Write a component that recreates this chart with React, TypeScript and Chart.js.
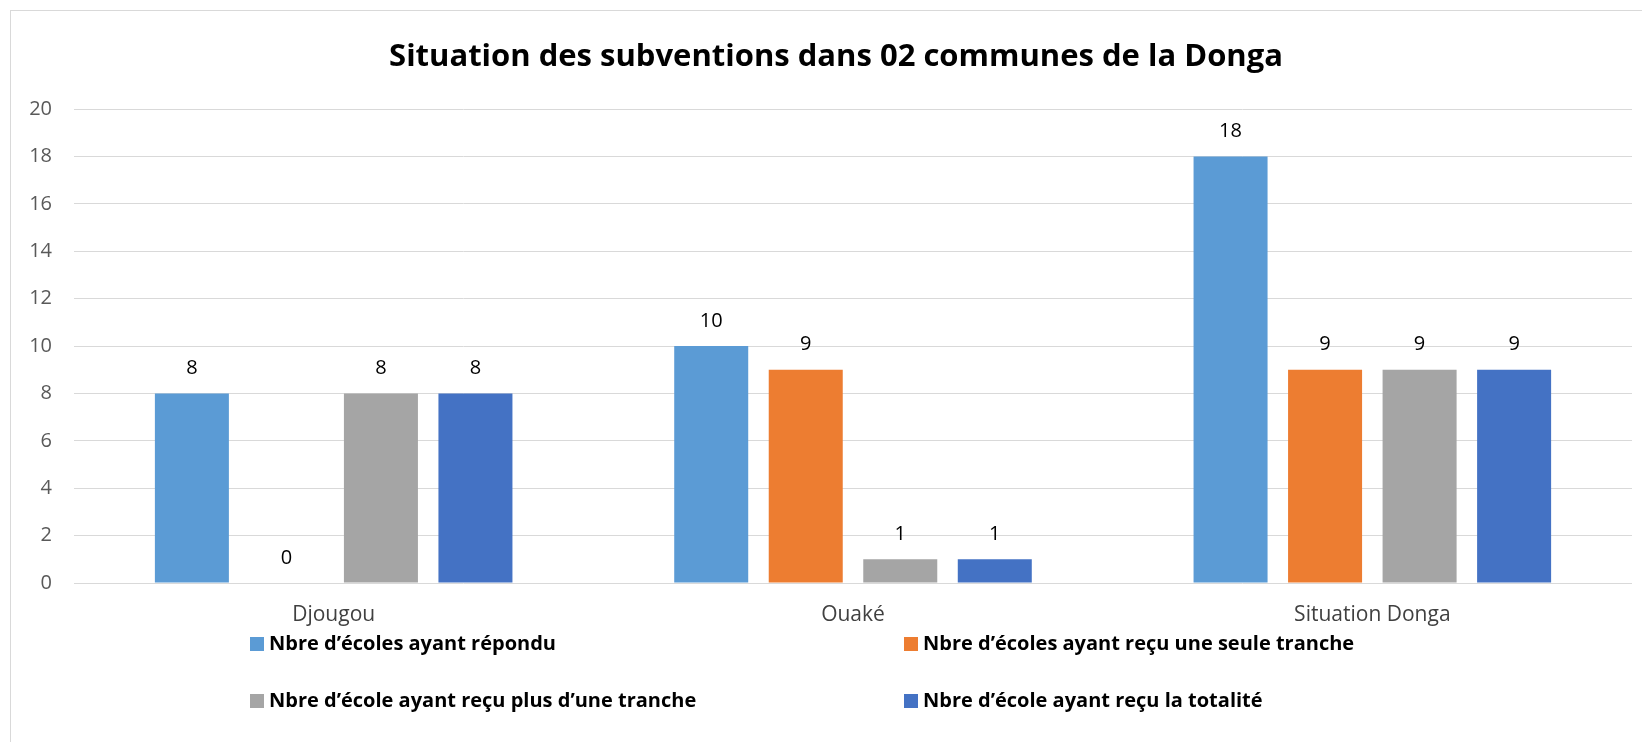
import { useEffect, useRef } from "react";
import { Chart, registerables } from "chart.js";

Chart.register(...registerables);

const titleText = "Situation des subventions dans 02 communes de la Donga";
const categories = ["Djougou", "Ouaké", "Situation Donga"];
const seriesLabels = [
  "Nbre d’écoles ayant répondu",
  "Nbre d’écoles ayant reçu une seule tranche",
  "Nbre d’école ayant reçu plus d’une tranche",
  "Nbre d’école ayant reçu la totalité",
];
const ecolesRepondu = [8, 10, 18];
const ecolesSeuleTranche = [0, 9, 9];
const ecolesPlusTranche = [8, 1, 9];
const ecolesTotalite = [8, 1, 9];
const seriesColors = ["#5B9BD5", "#ED7D31", "#A5A5A5", "#4472C4"];
const yMin = 0;
const yMax = 20;
const yStep = 2;

const FONT = '"Open Sans", "Noto Sans", sans-serif';

const titlePlugin = {
  id: "titleDraw",
  afterDraw(chart: any) {
    const ctx = chart.ctx;
    ctx.save();
    ctx.font = `bold 31px ${FONT}`;
    ctx.fillStyle = "#000000";
    ctx.textAlign = "center";
    ctx.textBaseline = "alphabetic";
    ctx.fillText(titleText, 836, 66);
    ctx.restore();
  },
};

const dataLabelPlugin = {
  id: "barValues",
  afterDatasetsDraw(chart: any) {
    const ctx = chart.ctx;
    ctx.save();
    ctx.font = `20px ${FONT}`;
    ctx.fillStyle = "#000000";
    ctx.textAlign = "center";
    ctx.textBaseline = "middle";
    chart.data.datasets.forEach((ds: any, i: number) => {
      const meta = chart.getDatasetMeta(i);
      meta.data.forEach((el: any, j: number) => {
        ctx.fillText(String(ds.data[j]), el.x, el.y - 25);
      });
    });
    ctx.restore();
  },
};

const legendPlugin = {
  id: "gridLegend",
  afterDraw(chart: any) {
    const ctx = chart.ctx;
    const cols = [250, 904];
    const rows = [644, 701];
    ctx.save();
    ctx.font = `bold 20px ${FONT}`;
    ctx.textBaseline = "middle";
    ctx.textAlign = "left";
    chart.data.datasets.forEach((ds: any, i: number) => {
      const x = cols[i % 2];
      const y = rows[Math.floor(i / 2)];
      ctx.fillStyle = ds.backgroundColor;
      ctx.fillRect(x, y - 7, 14, 14);
      ctx.fillStyle = "#000000";
      ctx.fillText(ds.label, x + 19, y);
    });
    ctx.restore();
  },
};

export default function App() {
  const canvasRef = useRef<HTMLCanvasElement | null>(null);

  useEffect(() => {
    document.body.style.margin = "0";
    const canvas = canvasRef.current;
    if (!canvas) return;
    const seriesValues = [ecolesRepondu, ecolesSeuleTranche, ecolesPlusTranche, ecolesTotalite];
    const chart = new Chart(canvas, {
      type: "bar",
      data: {
        labels: categories,
        datasets: seriesValues.map((vals, i) => ({
          label: seriesLabels[i],
          data: vals,
          backgroundColor: seriesColors[i],
          borderWidth: 0,
          categoryPercentage: 0.728,
          barPercentage: 0.783,
        })),
      },
      options: {
        animation: false,
        responsive: false,
        devicePixelRatio: 1,
        layout: { padding: { top: 109, left: 0, right: 10, bottom: 99 } },
        plugins: {
          legend: { display: false },
          title: { display: false },
          tooltip: { enabled: false },
        },
        scales: {
          x: {
            grid: { display: false, drawTicks: false },
            border: { display: false },
            ticks: {
              font: { family: FONT, size: 21 },
              color: "#404040",
              padding: 19,
            },
            afterFit(scale: any) {
              scale.height = 60;
            },
          },
          y: {
            min: yMin,
            max: yMax,
            grid: { color: "#d9d9d9", lineWidth: 1, drawTicks: false },
            border: { display: false },
            ticks: {
              stepSize: yStep,
              font: { family: FONT, size: 20 },
              color: "#595959",
              padding: 22,
            },
            afterFit(scale: any) {
              scale.width = 74;
            },
          },
        },
      },
      plugins: [titlePlugin, dataLabelPlugin, legendPlugin],
    });
    return () => chart.destroy();
  }, []);

  return (
    <div
      style={{
        position: "absolute",
        left: 0,
        top: 0,
        width: 1642,
        height: 742,
        overflow: "hidden",
        background: "#ffffff",
      }}
    >
      <div
        style={{
          position: "absolute",
          left: 10,
          top: 10,
          width: 1700,
          height: 800,
          border: "1px solid #d9d9d9",
          boxSizing: "border-box",
        }}
      />
      <canvas
        ref={canvasRef}
        width={1642}
        height={742}
        style={{ position: "absolute", left: 0, top: 0, width: 1642, height: 742 }}
      />
    </div>
  );
}
